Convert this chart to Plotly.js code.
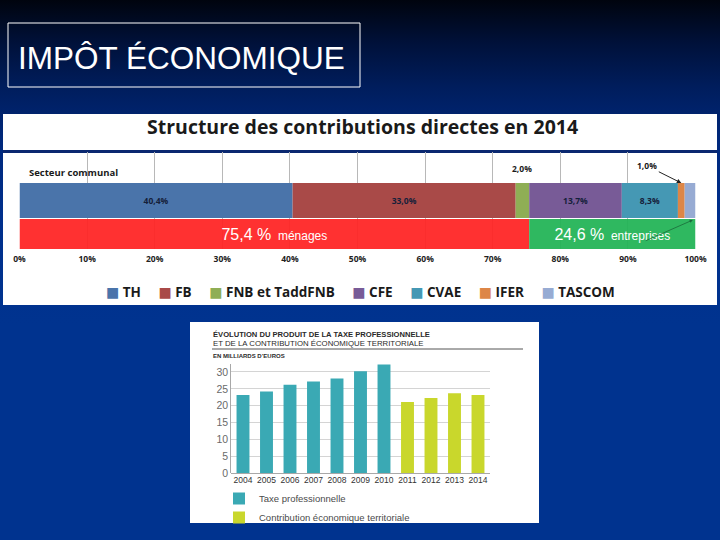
<!DOCTYPE html>
<html>
<head>
<meta charset="utf-8">
<script src="https://cdn.plot.ly/plotly-3.0.1.min.js"></script>
<style>
  html, body { margin: 0; padding: 0; }
  body {
    width: 720px; height: 540px; overflow: hidden;
    background: linear-gradient(to bottom, #00040e 0%, #00113a 8%, #001d5c 16%, #00287c 26%, #002f8c 40%, #00338f 60%, #00338f 100%);
  }
  #chart { width: 720px; height: 540px; }
</style>
</head>
<body>
<div id="chart"></div>
<script>
// ---------- DATA ----------
const categories = ['TH', 'FB', 'FNB et TaddFNB', 'CFE', 'CVAE', 'IFER', 'TASCOM'];
const shares2014 = [40.4, 33.0, 2.0, 13.7, 8.3, 1.0, 1.6];
const categoryColors = ['#4a74aa', '#a94a48', '#8fae55', '#785b97', '#4598b4', '#dd8647', '#97abd3'];

const groups = ['ménages', 'entreprises'];
const groupShares = [75.4, 24.6];
const groupColors = ['#ff2424', '#22b456'];

const years = ['2004', '2005', '2006', '2007', '2008', '2009', '2010', '2011', '2012', '2013', '2014'];
const tpYears = ['2004', '2005', '2006', '2007', '2008', '2009', '2010'];
const tpValues = [23.2, 24.2, 26.2, 27.2, 28.1, 30.2, 32.2];
const cetYears = ['2011', '2012', '2013', '2014'];
const cetValues = [21.1, 22.3, 23.7, 23.2];
const xTicks = [0, 10, 20, 30, 40, 50, 60, 70, 80, 90, 100];
const yTicks = [0, 5, 10, 15, 20, 25, 30];

// ---------- HELPERS ----------
const W = 720, H = 540;
const px = v => v / W;
const py = v => 1 - v / H;
const fmt = v => v.toFixed(1).replace('.', ',');
const cum = arr => arr.reduce((a, v, i) => { a.push(i ? a[i - 1] + arr[i - 1] : 0); return a; }, []);

const bases = cum(shares2014);
const gBases = cum(groupShares);
const insideLabel = [true, true, false, true, true, false, false];

const sansB = '"Open Sans", Lato, "DejaVu Sans", sans-serif';
const arial = '"Liberation Sans", Arial, sans-serif';

const traces = [];
categories.forEach((c, i) => {
  traces.push({
    type: 'bar', orientation: 'h',
    x: [shares2014[i]], base: [bases[i]], y: [48.5], width: 35,
    xaxis: 'x', yaxis: 'y',
    name: c, showlegend: false,
    marker: { color: categoryColors[i], line: { width: 0 } },
    text: [insideLabel[i] ? '<b>' + fmt(shares2014[i]) + '%</b>' : ''],
    texttemplate: '%{text}',
    textposition: 'inside', insidetextanchor: 'middle', textangle: 0,
    textfont: { family: sansB, size: 8.5, color: '#15203a' },
    hoverinfo: 'skip'
  });
});
groups.forEach((g, i) => {
  traces.push({
    type: 'bar', orientation: 'h',
    x: [groupShares[i]], base: [gBases[i]], y: [15], width: 30,
    xaxis: 'x', yaxis: 'y',
    name: g, showlegend: false,
    marker: { color: groupColors[i], opacity: 0.94, line: { width: 0 } },
    text: ['<span style="font-size:16px">' + fmt(groupShares[i]) + ' %</span>  ' + g],
    texttemplate: '%{text}',
    textposition: 'inside', insidetextanchor: 'middle', textangle: 0,
    textfont: { family: arial, size: 12, color: '#ffffff' },
    hoverinfo: 'skip'
  });
});
traces.push({
  type: 'bar', x: tpYears, y: tpValues, xaxis: 'x2', yaxis: 'y2',
  name: 'Taxe professionnelle', marker: { color: '#3aa9b4' }, hoverinfo: 'skip'
});
traces.push({
  type: 'bar', x: cetYears, y: cetValues, xaxis: 'x2', yaxis: 'y2',
  name: 'Contribution économique territoriale', marker: { color: '#c9d72c' }, hoverinfo: 'skip'
});

// legend for top chart built from the category arrays
const legendText = categories.map((c, i) =>
  '<span style="color:' + categoryColors[i] + ';font-size:14px">\u25A0</span>\u00a0<b>' + c + '</b>'
).join('\u00a0\u00a0\u00a0\u00a0\u00a0');

const fnbCenter = bases[2] + shares2014[2] / 2;
const iferCenter = bases[5] + shares2014[5] / 2;

const layout = {
  width: W, height: H,
  margin: { l: 0, r: 0, t: 0, b: 0 },
  paper_bgcolor: 'rgba(0,0,0,0)',
  plot_bgcolor: 'rgba(0,0,0,0)',
  barmode: 'overlay',
  bargap: 0.45,
  showlegend: true,
  legend: {
    x: px(219), y: py(484), xanchor: 'left', yanchor: 'top',
    bgcolor: 'rgba(0,0,0,0)', borderwidth: 0,
    font: { family: arial, size: 9.5, color: '#4a4a4a' },
    tracegroupgap: 0
  },
  xaxis: {
    domain: [px(19.5), px(695.5)], range: [0, 100], anchor: 'y',
    tickmode: 'array', tickvals: xTicks, ticktext: xTicks.map(v => '<b>' + v + '%</b>'),
    showgrid: true, gridcolor: '#b8b8b8', gridwidth: 1,
    zeroline: false, showline: false, ticks: '',
    tickfont: { family: sansB, size: 8.5, color: '#222' },
    ticklabelstandoff: 3, fixedrange: true
  },
  yaxis: {
    domain: [py(249), py(152)], range: [0, 97], anchor: 'x',
    visible: false, fixedrange: true
  },
  xaxis2: {
    domain: [px(231.25), px(489.75)], anchor: 'y2',
    type: 'category', categoryorder: 'array', categoryarray: years,
    range: [-0.5, 10.5], showgrid: false, zeroline: false, showline: false, ticks: '',
    tickangle: 0,
    tickfont: { family: arial, size: 8.5, color: '#333' },
    fixedrange: true
  },
  yaxis2: {
    domain: [py(473), py(363.9)], anchor: 'x2', range: [0, 32.4],
    tickmode: 'array', tickvals: yTicks,
    showgrid: true, gridcolor: '#d4d4d4', gridwidth: 1,
    zeroline: true, zerolinecolor: '#a8a8a8', zerolinewidth: 1,
    showline: true, linecolor: '#a8a8a8', linewidth: 1, ticks: '',
    tickfont: { family: arial, size: 10.5, color: '#6a6a6a' },
    fixedrange: true
  },
  shapes: [
    { type: 'rect', xref: 'paper', yref: 'paper', x0: px(8), x1: px(360), y0: py(87), y1: py(23),
      line: { color: '#ffffff', width: 1 }, fillcolor: 'rgba(0,0,0,0)', layer: 'below' },
    { type: 'rect', xref: 'paper', yref: 'paper', x0: px(3), x1: px(717), y0: py(305), y1: py(114),
      line: { width: 0 }, fillcolor: '#ffffff', layer: 'below' },
    { type: 'rect', xref: 'paper', yref: 'paper', x0: px(3), x1: px(717), y0: py(153), y1: py(150),
      line: { width: 0 }, fillcolor: '#0a2870', layer: 'below' },
    { type: 'rect', xref: 'paper', yref: 'paper', x0: px(190), x1: px(539), y0: py(523), y1: py(322),
      line: { width: 0 }, fillcolor: '#ffffff', layer: 'below' },
    { type: 'line', xref: 'paper', yref: 'paper', x0: px(212), x1: px(523), y0: py(349), y1: py(349),
      line: { color: '#555', width: 1 }, layer: 'below' }
  ],
  annotations: [
    { text: 'IMPÔT ÉCONOMIQUE', xref: 'paper', yref: 'paper', x: px(16), y: py(58),
      xanchor: 'left', yanchor: 'middle', showarrow: false,
      font: { family: arial, size: 31.5, color: '#ffffff' } },
    { text: '<b>Structure des contributions directes en 2014</b>', xref: 'paper', yref: 'paper',
      x: px(362), y: py(127), xanchor: 'center', yanchor: 'middle', showarrow: false,
      font: { family: sansB, size: 19.5, color: '#1a1a1a' } },
    { text: '<b>Secteur communal</b>', xref: 'paper', yref: 'paper', x: px(27), y: py(172),
      xanchor: 'left', yanchor: 'middle', showarrow: false,
      font: { family: sansB, size: 9.5, color: '#1a1a1a' } },
    { text: '<b>' + fmt(shares2014[2]) + '%</b>', xref: 'x', yref: 'y', x: fnbCenter, y: 80,
      xanchor: 'center', yanchor: 'middle', showarrow: false,
      font: { family: sansB, size: 8.5, color: '#1a1a1a' } },
    { text: '<b>' + fmt(shares2014[5]) + '%</b>', xref: 'x', yref: 'y', x: iferCenter, y: 66,
      ax: -34, ay: -17, showarrow: true, arrowhead: 2, arrowsize: 0.9, arrowwidth: 1,
      arrowcolor: '#222', standoff: 0,
      font: { family: sansB, size: 8.5, color: '#1a1a1a' } },
    { text: ' ', xref: 'x', yref: 'y', x: 99.6, y: 29, ax: -50, ay: 22,
      showarrow: true, arrowhead: 2, arrowsize: 0.8, arrowwidth: 0.8, arrowcolor: '#1a6a3a', standoff: 0 },
    { text: legendText, xref: 'paper', yref: 'paper', x: px(360), y: py(291),
      xanchor: 'center', yanchor: 'middle', showarrow: false,
      font: { family: sansB, size: 13.5, color: '#1a1a1a' } },
    { text: '<b>ÉVOLUTION DU PRODUIT DE LA TAXE PROFESSIONNELLE</b>', xref: 'paper', yref: 'paper',
      x: px(211), y: py(334), xanchor: 'left', yanchor: 'middle', showarrow: false,
      font: { family: arial, size: 7.6, color: '#2a2a2a' } },
    { text: 'ET DE LA CONTRIBUTION ÉCONOMIQUE TERRITORIALE', xref: 'paper', yref: 'paper',
      x: px(211), y: py(343), xanchor: 'left', yanchor: 'middle', showarrow: false,
      font: { family: arial, size: 7.8, color: '#2a2a2a' } },
    { text: '<b>EN MILLIARDS D\u2019EUROS</b>', xref: 'paper', yref: 'paper',
      x: px(211), y: py(356), xanchor: 'left', yanchor: 'middle', showarrow: false,
      font: { family: arial, size: 6, color: '#2a2a2a' } }
  ]
};

Plotly.newPlot('chart', traces, layout, { staticPlot: true, displayModeBar: false });
</script>
</body>
</html>
